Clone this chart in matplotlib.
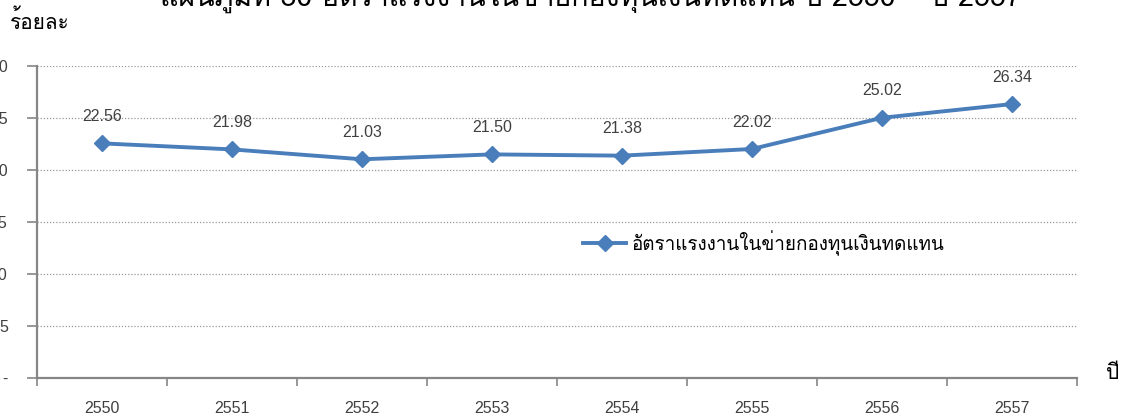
import matplotlib
matplotlib.use("Agg")
import matplotlib.pyplot as plt
from matplotlib import font_manager
from fontTools.ttLib import TTFont

# ข้อมูลแผนภูมิ
years = ["2550", "2551", "2552", "2553", "2554", "2555", "2556", "2557"]
rates = [22.56, 21.98, 21.03, 21.50, 21.38, 22.02, 25.02, 26.34]
y_ticks = [0, 5, 10, 15, 20, 25, 30]
y_tick_labels = ["-", "5", "10", "15", "20", "25", "30"]

title = "แผนภูมิที่ 30 อัตราแรงงานในข่ายกองทุนเงินทดแทน ปี 2550 – ปี 2557"
series_name = "อัตราแรงงานในข่ายกองทุนเงินทดแทน"


# หาฟอนต์ที่มีอักษรไทย
def find_thai_font():
    for f in font_manager.fontManager.ttflist:
        try:
            cmap = TTFont(f.fname, fontNumber=0, lazy=True).getBestCmap()
        except Exception:
            continue
        if cmap and 0x0E2D in cmap and 0x0E49 in cmap:
            return f.name
    return "DejaVu Sans"


thai = [find_thai_font(), "DejaVu Sans"]
num_font = "Liberation Sans"
blue = "#4A7EBB"
axis_col = "#868686"
text_col = "#404040"

fig = plt.figure(figsize=(11.23, 4.15), dpi=100)
ax = fig.add_axes([37 / 1123, 1 - 378 / 415, 1040 / 1123, 312 / 415])

x = list(range(len(years)))
ax.plot(x, rates, color=blue, lw=2.8, marker="D", markersize=8,
        markeredgecolor=blue, label=series_name, zorder=3)

for xi, v in zip(x, rates):
    ax.annotate(f"{v:.2f}", (xi, v), xytext=(0, 14), textcoords="offset points",
                ha="center", va="bottom", fontsize=11.5, family=num_font,
                color=text_col)

ax.set_xlim(-0.5, len(years) - 0.5)
ax.set_ylim(0, 30)

ax.set_xticks(x)
ax.set_xticklabels(years, fontsize=11.5, family=num_font, color=text_col)
ax.set_xticks([i - 0.5 for i in range(len(years) + 1)], minor=True)
ax.tick_params(axis="x", which="major", length=0, pad=16.5)
ax.tick_params(axis="x", which="minor", length=6, width=1.2, color=axis_col)

ax.set_yticks(y_ticks)
ax.set_yticklabels(y_tick_labels, fontsize=11.5, family=num_font, color=text_col)
ax.tick_params(axis="y", length=7, width=1.2, color=axis_col, pad=14)

ax.grid(axis="y", linestyle=(0, (1, 1.5)), color="#999999", lw=0.9)
ax.set_axisbelow(True)

for s in ["top", "right"]:
    ax.spines[s].set_visible(False)
for s in ["left", "bottom"]:
    ax.spines[s].set_color(axis_col)
    ax.spines[s].set_linewidth(1.6)

ax.legend(loc="center left", bbox_to_anchor=(583 / 1123, 1 - 243 / 415),
          bbox_transform=fig.transFigure, frameon=False, borderpad=0,
          borderaxespad=0, handlelength=2.3, handletextpad=0.25,
          prop={"family": thai, "size": 13.6})

# ชื่อแผนภูมิ (ถูกตัดขอบบน) และชื่อแกน
fig.text(0.526, 1 - 6 / 415, title, ha="center", va="baseline",
         fontsize=20.5, family=thai, color="black")
fig.text(10 / 1123, 1 - 29 / 415, "ร้อยละ", ha="left", va="baseline",
         fontsize=15, family=thai, color="black")
fig.text(1106 / 1123, 1 - 379 / 415, "ปี", ha="left", va="baseline",
         fontsize=15, family=thai, color="black")

fig.savefig("out.png", dpi=100)
